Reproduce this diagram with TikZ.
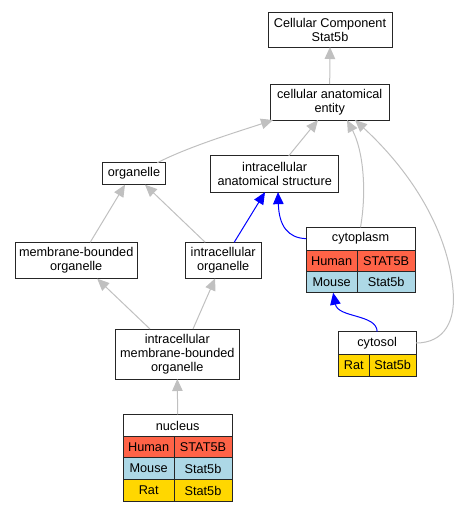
\documentclass[tikz,border=0pt]{standalone}
\usepackage{fontspec}
\setmainfont{Liberation Sans}
\usetikzlibrary{arrows.meta}
\definecolor{edgegray}{RGB}{192,192,192}
\definecolor{human}{RGB}{255,99,71}
\definecolor{mouse}{RGB}{173,216,230}
\definecolor{rat}{RGB}{255,215,0}
\tikzset{
  box/.style={draw=black!85, line width=1pt, fill=white, inner sep=0pt, outer sep=0pt, align=center, font=\fontsize{12.7}{14}\selectfont},
  cell/.style={box, anchor=north west},
  isa/.style={draw=edgegray, line width=1pt, -{Triangle[length=12pt,width=10.5pt]}},
  partof/.style={draw=blue, line width=1pt, -{Triangle[length=12pt,width=10.5pt]}}
}
\begin{document}
\begin{tikzpicture}[x=1pt,y=-1pt]
\useasboundingbox (0,0) rectangle (459,512);
% plain nodes
\node[box, minimum width=124pt, minimum height=35pt] (ccs) at (330,29.5) {Cellular Component\\Stat5b};
\node[box, minimum width=119.3pt, minimum height=36pt] (cae) at (329.7,102) {cellular anatomical\\entity};
\node[box, minimum width=62.6pt, minimum height=22pt] (org) at (134,173.7) {organelle};
\node[box, minimum width=128pt, minimum height=36.3pt] (ias) at (274.7,174) {intracellular\\anatomical structure};
\node[box, minimum width=121.7pt, minimum height=36.4pt] (mbo) at (76.2,260.5) {membrane-bounded\\organelle};
\node[box, minimum width=75.7pt, minimum height=36pt] (io) at (223.2,260.3) {intracellular\\organelle};
\node[box, minimum width=124pt, minimum height=50pt] (imbo) at (177.3,354) {intracellular\\membrane-bounded\\organelle};
% cytoplasm table
\node[cell, minimum width=109pt, minimum height=22.7pt] (cyt) at (306,227.3) {cytoplasm};
\node[cell, fill=human, minimum width=51.3pt, minimum height=21.7pt] (cyth) at (306,250) {Human};
\node[cell, fill=human, minimum width=57.7pt, minimum height=21.7pt] (cythg) at (357.3,250) {STAT5B};
\node[cell, fill=mouse, minimum width=51.3pt, minimum height=21pt] (cytm) at (306,271.7) {Mouse};
\node[cell, fill=mouse, minimum width=57.7pt, minimum height=21pt] (cytmg) at (357.3,271.7) {Stat5b};
% cytosol table
\node[cell, minimum width=77.7pt, minimum height=22.6pt] (cys) at (338.3,331.7) {cytosol};
\node[cell, fill=rat, minimum width=31pt, minimum height=21.7pt] (cysr) at (338.3,354.3) {Rat};
\node[cell, fill=rat, minimum width=46.7pt, minimum height=21.7pt] (cysrg) at (369.3,354.3) {Stat5b};
% nucleus table
\node[cell, minimum width=108.7pt, minimum height=22.4pt] (nuc) at (123.3,414.3) {nucleus};
\node[cell, fill=human, minimum width=50.7pt, minimum height=21pt] (nuch) at (123.3,436.7) {Human};
\node[cell, fill=human, minimum width=58pt, minimum height=21pt] (nuchg) at (174,436.7) {STAT5B};
\node[cell, fill=mouse, minimum width=50.7pt, minimum height=21.6pt] (nucm) at (123.3,457.7) {Mouse};
\node[cell, fill=mouse, minimum width=58pt, minimum height=21.6pt] (nucmg) at (174,457.7) {Stat5b};
\node[cell, fill=rat, minimum width=50.7pt, minimum height=22.4pt] (nucr) at (123.3,479.3) {Rat};
\node[cell, fill=rat, minimum width=58pt, minimum height=22.4pt] (nucrg) at (174,479.3) {Stat5b};
% edges
\draw[isa] (cae.north) -- (ccs.south);
\draw[isa] ([xshift=-8pt]org.north east) .. controls (190,146) and (240,131) .. ([xshift=3pt]cae.south west);
\draw[isa] ([xshift=14pt]ias.north) -- ([xshift=-11.7pt]cae.south);
\draw[isa] (cyt.north) .. controls (367,190) and (363,150) .. ([xshift=17.3pt]cae.south);
\draw[isa] (cys.east) .. controls (445,343) and (456,320) .. (453,290) .. controls (449,240) and (420,180) .. ([xshift=25.3pt]cae.south);
\draw[isa] ([xshift=14pt]mbo.north) -- ([xshift=-9pt]org.south);
\draw[isa] ([xshift=-18pt]io.north) -- ([xshift=11pt]org.south);
\draw[isa] ([xshift=-27.3pt]imbo.north) -- ([xshift=21pt]mbo.south);
\draw[isa] ([xshift=15.7pt]imbo.north) -- ([xshift=-8pt]io.south);
\draw[isa] (nuc.north) -- (imbo.south);
\draw[partof] ([xshift=11pt]io.north) -- ([xshift=-9.7pt]ias.south);
\draw[partof] (cyt.west) .. controls (288,238) and (279,226) .. ([xshift=3.3pt]ias.south);
\draw[partof] (cys.north) .. controls (377,314) and (338,318) .. ([xshift=1.5pt]cytm.south);
\end{tikzpicture}
\end{document}
